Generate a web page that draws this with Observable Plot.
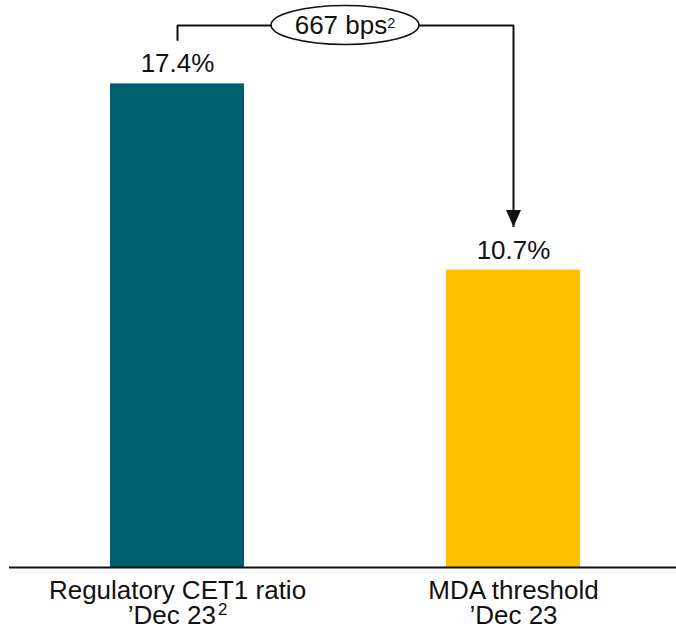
<!DOCTYPE html>
<html><head><meta charset="utf-8">
<script src="https://cdn.jsdelivr.net/npm/d3@7"></script>
<script src="https://cdn.jsdelivr.net/npm/@observablehq/plot@0.6"></script>
<style>
body{margin:0;background:#fff;}
#chart svg{display:block;font-family:"Liberation Sans",Arial,sans-serif;}
</style></head><body><div id="chart"></div>
<script>
const categories = ["Regulatory CET1 ratio", "MDA threshold"];
const subLabels = ["’Dec 23²", "’Dec 23"];
const values = [17.4, 10.7];
const valueLabels = ["17.4%", "10.7%"];
const barColors = ["#005F6F", "#FFC000"];
const gapLabel = "667 bps²";

const data = categories.map((c, i) => ({cat: c, value: values[i], label: valueLabels[i], color: barColors[i]}));

const yMax = 20.4;         // top of plotting area, in %
const bracketLevel = 19.5; // level of connector line, in %
const dropGap = 1.55;      // connector ends this far above each bar

const bracket = [
  {cat: categories[0], y: values[0] + dropGap},
  {cat: categories[0], y: bracketLevel},
  {cat: categories[1], y: bracketLevel},
  {cat: categories[1], y: values[1] + dropGap}
];
const arrowTip = [{cat: categories[1], y: values[1] + dropGap}];

const ink = "#111";

const gapBubble = (index, scales) => {
  const bw = scales.x.bandwidth ? scales.x.bandwidth() : 0;
  const cx = (scales.x(categories[0]) + scales.x(categories[1]) + bw) / 2;
  const cy = scales.y(bracketLevel);
  const g = d3.create("svg:g");
  g.append("ellipse").attr("cx", cx).attr("cy", cy).attr("rx", 74).attr("ry", 19.5)
    .attr("fill", "white").attr("stroke", ink).attr("stroke-width", 1.6);
  g.append("text").attr("x", cx).attr("y", cy).attr("dy", "0.36em")
    .attr("text-anchor", "middle").attr("font-size", 26).attr("fill", ink)
    .attr("class", "sup-small").text(gapLabel);
  return g.node();
};

const chart = Plot.plot({
  width: 676,
  height: 631,
  marginTop: 0,
  marginLeft: 9,
  marginRight: 0,
  marginBottom: 64,
  style: {fontFamily: "Liberation Sans, Arial, sans-serif", color: ink, background: "white"},
  x: {domain: categories, padding: 0.6, paddingOuter: 0.29, align: 0.515, label: null},
  y: {domain: [0, yMax], axis: null},
  marks: [
    Plot.barY(data, {x: "cat", y: "value", fill: "color"}),
    Plot.ruleY([0], {stroke: ink, strokeWidth: 2}),
    Plot.text(data, {x: "cat", y: "value", text: "label", lineAnchor: "bottom", dy: -11.5, fontSize: 26, fill: ink}),
    Plot.line(bracket, {x: "cat", y: "y", stroke: ink, strokeWidth: 2, strokeLinecap: "butt", strokeLinejoin: "miter", curve: "linear"}),
    Plot.vector(arrowTip, {x: "cat", y: "y", rotate: 180, length: 17, r: 7.5, shape: "spike", anchor: "end", fill: ink, stroke: "none"}),
    gapBubble,
    Plot.axisX({
      tickSize: 0,
      tickPadding: 14,
      fontSize: 26,
      lineHeight: 0.96,
      tickFormat: (d) => d + "\n" + subLabels[categories.indexOf(d)],
      label: null
    })
  ]
});

// render "²" as a true superscript
function superscript(node, sizeEm, shiftEm, dx) {
  const walker = document.createTreeWalker(node, NodeFilter.SHOW_TEXT);
  const hits = [];
  while (walker.nextNode()) if (walker.currentNode.nodeValue.includes("²")) hits.push(walker.currentNode);
  for (const t of hits) {
    const parent = t.parentNode;
    const [before, after] = t.nodeValue.split("²");
    t.nodeValue = before;
    const sup = document.createElementNS("http://www.w3.org/2000/svg", "tspan");
    sup.setAttribute("font-size", sizeEm + "em");
    sup.setAttribute("dy", shiftEm + "em");
    sup.setAttribute("dx", dx);
    sup.textContent = "2" + (after || "");
    parent.insertBefore(sup, t.nextSibling);
  }
}
chart.querySelectorAll("text.sup-small").forEach(n => superscript(n, 0.56, -0.45, 0));
chart.querySelectorAll("text").forEach(n => { if (!n.classList.contains("sup-small")) superscript(n, 0.65, -0.55, 2); });

document.getElementById("chart").append(chart);
</script>
</body></html>
